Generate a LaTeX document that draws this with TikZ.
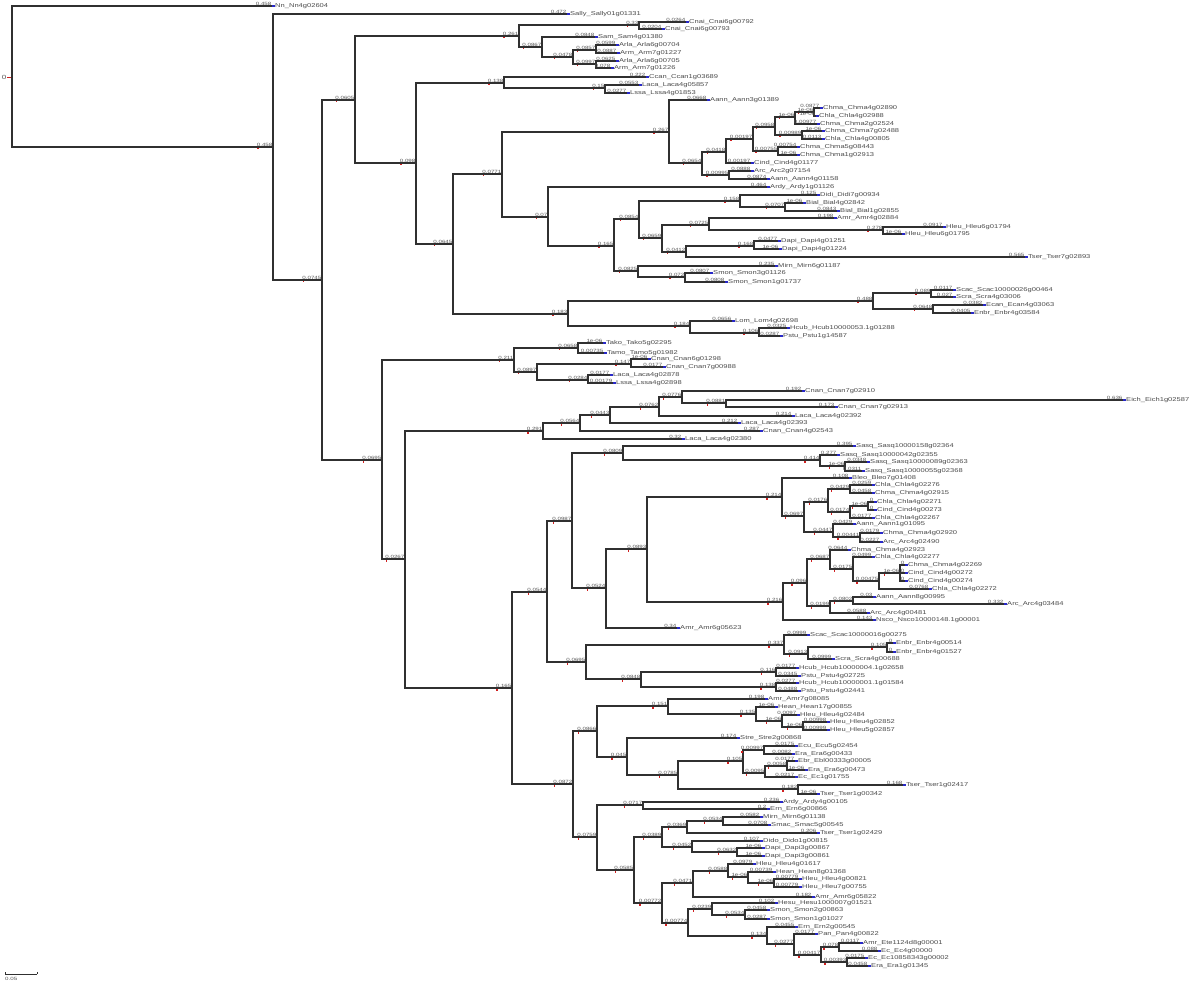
\documentclass[tikz,border=0pt]{standalone}
\usepackage{fontspec}
\newfontfamily\tfont[FakeStretch=1.35]{Liberation Sans}
\definecolor{edgec}{HTML}{303030}
\definecolor{labc}{HTML}{555555}
\definecolor{namec}{HTML}{4A4A4A}
\definecolor{tipc}{HTML}{2828C8}
\definecolor{markc}{HTML}{D02020}
\tikzset{
  br/.style={draw=edgec,line width=1.2pt},
  bl/.style={anchor=south east,inner sep=0.4pt,text=labc,font=\tfont\fontsize{4.6}{5}\selectfont},
  lname/.style={anchor=west,inner sep=0pt,xshift=3pt,text=namec,font=\tfont\fontsize{5.6}{6}\selectfont},
  tipmark/.style={draw=tipc,line width=1.2pt},
  nodemark/.style={fill=markc}
}
% edge from parent to child, with its branch-length label
\newcommand\EDGE[5]{%
  \coordinate (#1) at (#3,#4);
  \draw[br] (#2) |- (#1);
  \node[bl,name=#1-l] at (#1) {#5};
}
% internal node
\newcommand\BR[5]{%
  \EDGE{#1}{#2}{#3}{#4}{#5}
  \fill[nodemark] (#1) ++(-0.7,-0.7) rectangle ++(1.4,1.4);
  \fill[nodemark] (#1-l.south west) ++(1,1.2) rectangle ++(1.3,1.3);
}
% leaf
\newcommand\LF[6]{%
  \EDGE{#1}{#2}{#3}{#4}{#5}
  \draw[tipmark] (#1) -- ++(3,0);
  \node[lname,name=#1-n] at (#1) {#6};
}
\begin{document}
\begin{tikzpicture}[x=1pt,y=-1pt]
\useasboundingbox (0,0) rectangle (1200,984);
% root
\coordinate (R) at (12,77);
\coordinate (R0) at (7,77);
\draw[draw=markc,line width=0.8pt] (R0) -- (R);
\node[anchor=east,inner sep=0.5pt,text=labc,font=\tfont\fontsize{6}{6}\selectfont] (R-l) at (R0) {0};
\LF{nn}{R}{272}{6}{0.458}{Nn\_Nn4g02604}
\BR{A}{R}{273}{147}{0.458}
\LF{sally}{A}{567}{14}{0.472}{Sally\_Sally01g01331}
\BR{B}{A}{322}{280}{0.0745}
\BR{C}{B}{355}{100}{0.0605}
\BR{D}{B}{382}{460}{0.0695}
% ---- C
\BR{Ca}{C}{519}{36}{0.261}
\BR{Cb}{C}{416}{163}{0.098}
\BR{Ca1}{Ca}{639}{25}{0.33}
\LF{l1}{Ca1}{686}{22}{0.0264}{Cnai\_Cnai6g00792}
\LF{l2}{Ca1}{662}{29}{0.0204}{Cnai\_Cnai6g00793}
\BR{Ca2}{Ca}{542}{47}{0.0867}
\LF{l3}{Ca2}{595}{37}{0.0848}{Sam\_Sam4g01380}
\BR{Ca3}{Ca2}{573}{57}{0.0478}
\BR{Ca4}{Ca3}{596}{50}{0.0857}
\LF{l4}{Ca4}{616}{45}{0.0599}{Arla\_Arla6g00704}
\LF{l5}{Ca4}{617}{53}{0.0887}{Arm\_Arm7g01227}
\BR{Ca5}{Ca3}{596}{64}{0.0997}
\LF{l6}{Ca5}{616}{61}{0.0625}{Arla\_Arla6g00705}
\LF{l7}{Ca5}{611}{68}{0.078}{Arm\_Arm7g01226}
\BR{Cc}{Cb}{504}{83}{0.138}
\LF{l8}{Cc}{646}{77}{0.222}{Ccan\_Ccan1g03689}
\BR{Cd}{Cc}{605}{88}{0.15}
\LF{l9}{Cd}{639}{85}{0.0553}{Laca\_Laca4g05857}
\LF{l10}{Cd}{627}{93}{0.0277}{Lssa\_Lssa4g01853}
\BR{E}{Cb}{453}{244}{0.0645}
\BR{F}{E}{502}{174}{0.0771}
\BR{G}{E}{568}{314}{0.183}
\BR{H}{F}{669}{132}{0.267}
\BR{I}{F}{548}{217}{0.07}
\LF{l11}{H}{707}{100}{0.0668}{Aann\_Aann3g01389}
\BR{H2}{H}{702}{163}{0.0654}
\BR{n7}{H2}{726}{152}{0.0418}
\BR{H4}{H2}{729}{175}{0.00995}
\BR{n5}{n7}{753}{139}{0.00197}
\LF{cind}{n7}{751}{163}{0.00197}{Cind\_Cind4g01177}
\BR{n4}{n5}{775}{127}{0.0958}
\BR{n6}{n5}{778}{151}{0.00755}
\BR{n2}{n4}{795}{117}{1e-06}
\BR{n3}{n4}{802}{135}{0.00989}
\BR{n1}{n2}{814}{112}{1e-06}
\LF{l12}{n2}{817}{124}{0.00977}{Chma\_Chma2g02524}
\LF{l13}{n1}{820}{108}{0.0877}{Chma\_Chma4g02890}
\LF{l14}{n1}{816}{116}{1e-06}{Chla\_Chla4g02988}
\LF{l15}{n3}{822}{131}{1e-06}{Chma\_Chma7g02488}
\LF{l16}{n3}{822}{139}{0.0113}{Chla\_Chla4g00805}
\LF{l17}{n6}{797}{147}{0.00754}{Chma\_Chma5g08443}
\LF{l18}{n6}{797}{155}{1e-06}{Chma\_Chma1g02913}
\LF{l19}{H4}{751}{171}{0.0888}{Arc\_Arc2g07154}
\LF{l20}{H4}{767}{179}{0.0874}{Aann\_Aann4g01158}
\LF{l21}{I}{767}{187}{0.464}{Ardy\_Ardy1g01126}
\BR{J}{I}{614}{246}{0.165}
\BR{K}{J}{639}{219}{0.0854}
\BR{L}{J}{638}{271}{0.0825}
\BR{K1}{K}{740}{201}{0.158}
\BR{K2}{K}{662}{238}{0.0659}
\LF{l22}{K1}{817}{195}{0.125}{Didi\_Didi7g00934}
\BR{K1b}{K1}{785}{207}{0.0707}
\LF{l23}{K1b}{803}{203}{1e-06}{Bial\_Bial4g02842}
\LF{l24}{K1b}{837}{211}{0.0843}{Bial\_Bial1g02855}
\BR{K2a}{K2}{709}{225}{0.0725}
\BR{K2b}{K2}{686}{252}{0.0412}
\LF{l25}{K2a}{834}{218}{0.198}{Amr\_Amr4g02884}
\BR{K2c}{K2a}{883}{230}{0.278}
\LF{l26}{K2c}{943}{227}{0.0917}{Hleu\_Hleu6g01794}
\LF{l27}{K2c}{902}{234}{1e-06}{Hleu\_Hleu6g01795}
\BR{K2d}{K2b}{754}{246}{0.168}
\LF{tser1}{K2b}{1025}{257}{0.565}{Tser\_Tser7g02893}
\LF{l28}{K2d}{778}{241}{0.0477}{Dapi\_Dapi4g01251}
\LF{l29}{K2d}{779}{249}{1e-06}{Dapi\_Dapi4g01224}
\LF{l30}{L}{775}{266}{0.235}{Mirn\_Mirn6g01187}
\BR{L2}{L}{685}{277}{0.072}
\LF{l31}{L2}{710}{273}{0.0807}{Smon\_Smon3g01126}
\LF{l32}{L2}{725}{282}{0.0808}{Smon\_Smon1g01737}
\BR{M}{G}{873}{301}{0.488}
\BR{N}{G}{690}{326}{0.184}
\BR{M1}{M}{931}{293}{0.089}
\BR{M2}{M}{933}{309}{0.0648}
\LF{l33}{M1}{953}{290}{0.0117}{Scac\_Scac10000026g00464}
\LF{l34}{M1}{953}{297}{0.027}{Scra\_Scra4g03006}
\LF{l35}{M2}{983}{305}{0.0382}{Ecan\_Ecan4g03063}
\LF{l36}{M2}{971}{313}{0.0405}{Enbr\_Enbr4g03584}
\LF{l37}{N}{732}{321}{0.0656}{Lom\_Lom4g02698}
\BR{N2}{N}{759}{333}{0.106}
\LF{l38}{N2}{787}{328}{0.0325}{Hcub\_Hcub10000053.1g01288}
\LF{l39}{N2}{780}{336}{0.0287}{Pstu\_Pstu1g14587}
% ---- D
\BR{O}{D}{514}{360}{0.211}
\BR{P}{D}{405}{559}{0.0267}
\BR{O1}{O}{578}{348}{0.0658}
\BR{O2}{O}{537}{372}{0.0897}
\LF{l40}{O1}{603}{343}{1e-06}{Tako\_Tako5g02295}
\LF{l41}{O1}{604}{353}{0.00735}{Tamo\_Tamo5g01982}
\BR{O2a}{O2}{631}{364}{0.147}
\BR{O2b}{O2}{588}{380}{0.0284}
\LF{l42}{O2a}{648}{359}{1e-06}{Cnan\_Cnan6g01298}
\LF{l43}{O2a}{663}{367}{0.0177}{Cnan\_Cnan7g00988}
\LF{l44}{O2b}{610}{375}{0.0177}{Laca\_Laca4g02878}
\LF{l45}{O2b}{613}{383}{0.00179}{Lssa\_Lssa4g02898}
\BR{Q}{P}{543}{431}{0.291}
\BR{S}{P}{512}{688}{0.165}
\BR{Q1}{Q}{580}{423}{0.0564}
\LF{l46}{Q}{682}{439}{0.32}{Laca\_Laca4g02380}
\BR{Q2}{Q1}{610}{415}{0.0443}
\LF{l47}{Q1}{760}{431}{0.287}{Cnan\_Cnan4g02543}
\BR{Q3}{Q2}{659}{407}{0.0762}
\LF{l48}{Q2}{738}{423}{0.212}{Laca\_Laca4g02393}
\BR{Q4}{Q3}{682}{397}{0.0776}
\LF{l49}{Q3}{792}{416}{0.214}{Laca\_Laca4g02392}
\LF{l50}{Q4}{802}{391}{0.192}{Cnan\_Cnan7g02910}
\BR{Q5}{Q4}{726}{403}{0.0881}
\LF{eich}{Q5}{1123}{400}{0.636}{Eich\_Eich1g02587}
\LF{l51}{Q5}{835}{407}{0.173}{Cnan\_Cnan7g02913}
\BR{T}{S}{547}{592}{0.0544}
\BR{U}{S}{573}{784}{0.0872}
\BR{T1}{T}{572}{521}{0.0987}
\BR{T2}{T}{586}{662}{0.0695}
\BR{T1a}{T1}{623}{453}{0.0809}
\BR{T1b}{T1}{606}{588}{0.0524}
\LF{l52}{T1a}{853}{446}{0.395}{Sasq\_Sasq10000158g02364}
\BR{T1a2}{T1a}{820}{460}{0.414}
\LF{l53}{T1a2}{837}{455}{0.277}{Sasq\_Sasq10000042g02355}
\BR{T1a3}{T1a2}{845}{466}{1e-06}
\LF{l54}{T1a3}{867}{462}{0.0348}{Sasq\_Sasq10000089g02363}
\LF{l55}{T1a3}{862}{471}{0.0311}{Sasq\_Sasq10000055g02368}
\BR{T1c}{T1b}{647}{549}{0.0893}
\LF{l56}{T1b}{677}{628}{0.34}{Amr\_Amr6g05623}
\BR{V}{T1c}{782}{497}{0.214}
\BR{W}{T1c}{783}{602}{0.216}
\LF{l57}{V}{849}{478}{0.108}{Bleo\_Bleo7g01408}
\BR{V2}{V}{804}{516}{0.0697}
\BR{V3}{V2}{828}{502}{0.0176}
\BR{V4}{V2}{833}{532}{0.0447}
\BR{V3a}{V3}{850}{489}{0.0429}
\BR{V3b}{V3}{850}{512}{0.0174}
\LF{l58}{V3a}{872}{485}{0.0259}{Chla\_Chla4g02276}
\LF{l59}{V3a}{872}{493}{0.0458}{Chma\_Chma4g02915}
\BR{V3c}{V3b}{868}{506}{1e-06}
\LF{l60}{V3b}{872}{518}{0.0177}{Chla\_Chla4g02267}
\LF{l61}{V3c}{874}{502}{0}{Chla\_Chla4g02271}
\LF{l62}{V3c}{874}{510}{0}{Cind\_Cind4g00273}
\LF{l63}{V4}{853}{524}{0.0429}{Aann\_Aann1g01095}
\BR{V5}{V4}{860}{537}{0.00441}
\LF{l64}{V5}{880}{533}{0.0179}{Chma\_Chma4g02920}
\LF{l65}{V5}{880}{542}{0.0227}{Arc\_Arc4g02490}
\BR{W1}{W}{807}{583}{0.096}
\LF{l66}{W}{873}{620}{0.143}{Nsco\_Nsco10000148.1g00001}
\BR{W1a}{W1}{830}{559}{0.0687}
\BR{W1b}{W1}{830}{606}{0.0199}
\LF{l67}{W1a}{848}{550}{0.0644}{Chma\_Chma4g02923}
\BR{W1c}{W1a}{853}{569}{0.0175}
\LF{l68}{W1c}{872}{557}{0.0499}{Chla\_Chla4g02277}
\BR{W1d}{W1c}{879}{581}{0.00475}
\BR{W1e}{W1d}{900}{573}{1e-06}
\LF{l69}{W1d}{929}{589}{0.0768}{Chla\_Chla4g02272}
\LF{l70}{W1e}{905}{565}{0}{Chma\_Chma4g02269}
\LF{l71}{W1e}{905}{573}{0}{Cind\_Cind4g00272}
\LF{l72}{W1e}{905}{581}{0}{Cind\_Cind4g00274}
\BR{W1f}{W1b}{853}{601}{0.0802}
\LF{l73}{W1b}{867}{613}{0.0588}{Arc\_Arc4g00481}
\LF{l74}{W1f}{873}{597}{0.03}{Aann\_Aann8g00995}
\LF{l75}{W1f}{1004}{604}{0.332}{Arc\_Arc4g03484}
\BR{T2a}{T2}{784}{645}{0.337}
\BR{T2b}{T2}{641}{679}{0.0848}
\LF{l76}{T2a}{807}{635}{0.0999}{Scac\_Scac10000016g00275}
\BR{T2c}{T2a}{808}{654}{0.0913}
\BR{T2d}{T2c}{887}{647}{0.105}
\LF{l77}{T2c}{832}{659}{0.0999}{Scra\_Scra4g00688}
\LF{l78}{T2d}{893}{643}{0}{Enbr\_Enbr4g00514}
\LF{l79}{T2d}{893}{652}{0}{Enbr\_Enbr4g01527}
\BR{T2e}{T2b}{776}{672}{0.116}
\BR{T2f}{T2b}{776}{687}{0.138}
\LF{l80}{T2e}{796}{668}{0.0177}{Hcub\_Hcub10000004.1g02658}
\LF{l81}{T2e}{798}{676}{0.0345}{Pstu\_Pstu4g02725}
\LF{l82}{T2f}{796}{683}{0.0277}{Hcub\_Hcub10000001.1g01584}
\LF{l83}{T2f}{798}{691}{0.0488}{Pstu\_Pstu4g02441}
\BR{U1}{U}{597}{731}{0.0866}
\BR{U2}{U}{597}{837}{0.0759}
\BR{U1a}{U1}{668}{706}{0.151}
\BR{U1b}{U1}{627}{757}{0.045}
\LF{l84}{U1a}{765}{699}{0.198}{Amr\_Amr7g08085}
\BR{U1c}{U1a}{756}{714}{0.135}
\LF{l85}{U1c}{775}{707}{1e-06}{Hean\_Hean17g00855}
\BR{U1d}{U1c}{782}{721}{1e-06}
\LF{l86}{U1d}{797}{715}{0.0097}{Hleu\_Hleu4g02484}
\BR{U1e}{U1d}{803}{727}{1e-06}
\LF{l87}{U1e}{827}{722}{0.00998}{Hleu\_Hleu4g02852}
\LF{l88}{U1e}{827}{730}{0.00999}{Hleu\_Hleu5g02857}
\LF{l89}{U1b}{737}{738}{0.174}{Stre\_Stre2g00868}
\BR{U1f}{U1b}{678}{775}{0.0785}
\BR{U1g}{U1f}{743}{761}{0.105}
\BR{U1h}{U1f}{798}{789}{0.182}
\BR{U1i}{U1g}{764}{750}{0.00997}
\BR{U1j}{U1g}{765}{773}{0.0095}
\LF{l90}{U1i}{795}{746}{0.0175}{Ecu\_Ecu5g02454}
\LF{l91}{U1i}{792}{754}{0.0082}{Era\_Era6g00433}
\BR{U1k}{U1j}{787}{766}{0.0058}
\LF{l92}{U1j}{795}{777}{0.0217}{Ec\_Ec1g01755}
\LF{l93}{U1k}{795}{761}{0.0177}{Ebr\_Ebl00333g00005}
\LF{l94}{U1k}{805}{770}{1e-06}{Era\_Era6g00473}
\LF{l95}{U1h}{903}{785}{0.168}{Tser\_Tser1g02417}
\LF{l96}{U1h}{817}{794}{1e-06}{Tser\_Tser1g00342}
\BR{U2a}{U2}{643}{805}{0.0717}
\BR{U2b}{U2}{634}{870}{0.0585}
\LF{l97}{U2a}{780}{802}{0.236}{Ardy\_Ardy4g00105}
\LF{l98}{U2a}{767}{809}{0.2}{Ern\_Ern6g00866}
\BR{U2c}{U2b}{662}{837}{0.0389}
\BR{U2d}{U2b}{662}{903}{0.00772}
\BR{U2e}{U2c}{687}{827}{0.0369}
\BR{U2f}{U2c}{692}{847}{0.0452}
\BR{U2g}{U2e}{723}{821}{0.0534}
\LF{l99}{U2e}{817}{833}{0.206}{Tser\_Tser1g02429}
\LF{l100}{U2g}{760}{817}{0.0582}{Mirn\_Mirn6g01138}
\LF{l101}{U2g}{768}{825}{0.0708}{Smac\_Smac5g00545}
\LF{l102}{U2f}{760}{841}{0.107}{Dido\_Dido1g00815}
\BR{U2h}{U2f}{737}{852}{0.0632}
\LF{l103}{U2h}{762}{848}{1e-06}{Dapi\_Dapi3g00867}
\LF{l104}{U2h}{762}{856}{1e-06}{Dapi\_Dapi3g00861}
\BR{U2i}{U2d}{693}{883}{0.0471}
\BR{U2j}{U2d}{688}{923}{0.00774}
\BR{U2k}{U2i}{728}{871}{0.0588}
\LF{l105}{U2i}{812}{897}{0.182}{Amr\_Amr6g05822}
\LF{l106}{U2k}{753}{864}{0.0979}{Hleu\_Hleu4g01617}
\BR{U2l}{U2k}{748}{877}{1e-06}
\LF{l107}{U2l}{773}{872}{0.00739}{Hean\_Hean8g01368}
\BR{U2m}{U2l}{774}{883}{1e-06}
\LF{l108}{U2m}{799}{879}{0.00779}{Hleu\_Hleu4g00821}
\LF{l109}{U2m}{799}{887}{0.00779}{Hleu\_Hleu7g00755}
\BR{U2n}{U2j}{712}{909}{0.0239}
\BR{U2o}{U2j}{767}{936}{0.134}
\LF{l110}{U2n}{775}{903}{0.102}{Hesu\_Hesu1000007g01521}
\BR{U2p}{U2n}{745}{915}{0.0534}
\LF{l111}{U2p}{767}{910}{0.0458}{Smon\_Smon2g00863}
\LF{l112}{U2p}{767}{919}{0.0287}{Smon\_Smon1g01027}
\LF{l113}{U2o}{795}{927}{0.0455}{Ern\_Ern2g00545}
\BR{U2q}{U2o}{794}{944}{0.0277}
\LF{l114}{U2q}{815}{934}{0.0177}{Pan\_Pan4g00822}
\BR{U2r}{U2q}{821}{955}{0.00417}
\BR{U2s}{U2r}{839}{947}{0.078}
\BR{U2t}{U2r}{847}{962}{0.00393}
\LF{l115}{U2s}{860}{943}{0.0117}{Amr\_Ete1124d8g00001}
\LF{l116}{U2s}{878}{951}{0.088}{Ec\_Ec4g00000}
\LF{l117}{U2t}{865}{958}{0.0175}{Ec\_Ec10858343g00002}
\LF{l118}{U2t}{868}{966}{0.0458}{Era\_Era1g01345}
% scale bar
\coordinate (sb1) at (5,974);
\coordinate (sb2) at (37,974);
\draw[edgec,line width=0.6pt] (sb1) -- (sb2);
\draw[edgec,line width=0.6pt] (sb1) -- ++(0,-2);
\draw[edgec,line width=0.6pt] (sb2) -- ++(0,-2);
\node[anchor=north west,inner sep=0pt,text=labc,font=\tfont\fontsize{4.6}{5}\selectfont] (sbl) at (5,977) {0.05};
\end{tikzpicture}
\end{document}
